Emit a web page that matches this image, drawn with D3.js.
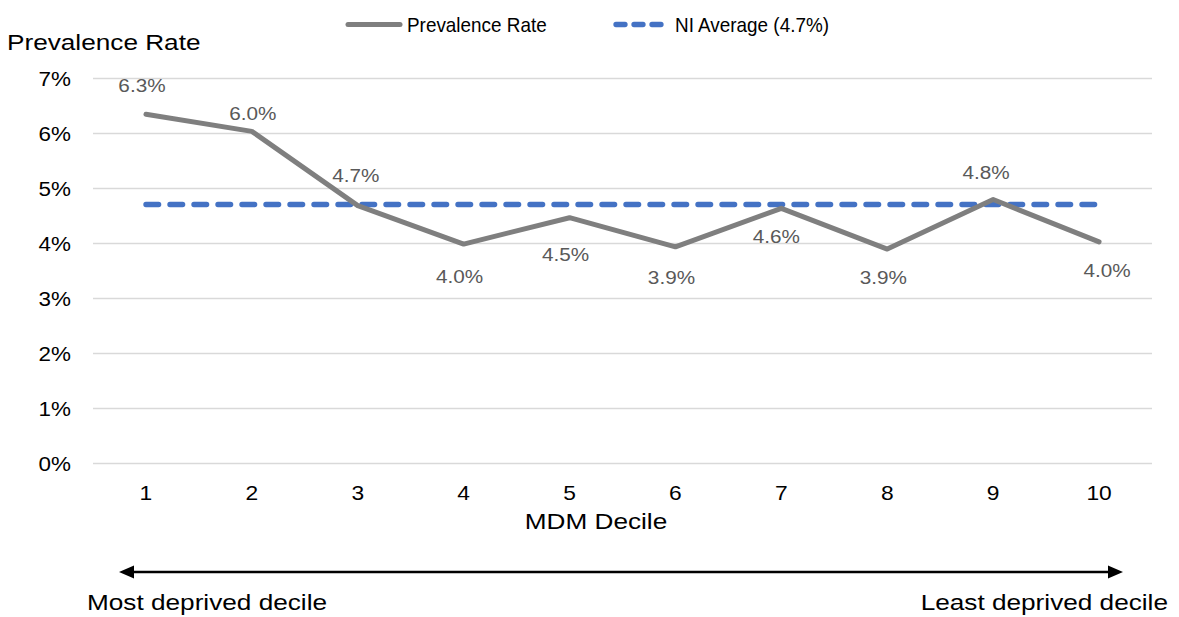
<!DOCTYPE html>
<html>
<head>
<meta charset="utf-8">
<script src="https://cdn.jsdelivr.net/npm/d3@7"></script>
<style>
  html, body { margin: 0; padding: 0; background: #fff; }
  svg { display: block; font-family: "Liberation Sans", Arial, sans-serif; }
</style>
</head>
<body>
<svg id="chart" width="1179" height="617"></svg>
<script>
// Prevalence rate (%) by MDM decile
const deciles = ["1", "2", "3", "4", "5", "6", "7", "8", "9", "10"];
const prevalence = [6.34, 6.03, 4.68, 3.98, 4.46, 3.93, 4.63, 3.89, 4.79, 4.02];
const niAverage = 4.7;
const yTicks = [0, 1, 2, 3, 4, 5, 6, 7];
// data label nudges (dx, dy to baseline) per decile
const labelOffsets = [[-4, -22], [1, -11], [-2, -24], [-4, 39], [-4, 43], [-4, 37], [-5, 35], [-4, 35], [-7, -21], [8, 35]];

const svg = d3.select("#chart");
const plot = { left: 93, right: 1152, top: 78, bottom: 463 };

const x = d3.scaleBand().domain(deciles).range([plot.left, plot.right]).padding(0);
const cx = d => x(d) + x.bandwidth() / 2;
const y = d3.scaleLinear().domain([0, 7]).range([plot.bottom, plot.top]);

// text with a slight horizontal stretch
function label(g, txt, px, py, opts) {
  const o = Object.assign({ size: 20, sx: 1.15, anchor: "start", fill: "#000" }, opts || {});
  return g.append("text")
    .attr("transform", `translate(${px},${py}) scale(${o.sx},1)`)
    .attr("text-anchor", o.anchor)
    .attr("font-size", o.size)
    .attr("fill", o.fill)
    .text(txt);
}

// gridlines
const yAxis = d3.axisLeft(y).tickValues(yTicks).tickSize(-(plot.right - plot.left)).tickFormat("");
const gy = svg.append("g").attr("transform", `translate(${plot.left},0)`).call(yAxis);
gy.select(".domain").remove();
gy.selectAll(".tick line").attr("stroke", "#d9d9d9").attr("stroke-width", 1.3);

// y tick labels
yTicks.forEach(t => label(svg, t + "%", 71, y(t) + 7.5, { size: 19.5, anchor: "end", sx: 1.15 }));

// x tick labels
deciles.forEach(d => label(svg, d, cx(d), 500, { size: 20, anchor: "middle", sx: 1.14 }));

// titles
label(svg, "Prevalence Rate", 7, 50, { size: 22, sx: 1.19 });
label(svg, "MDM Decile", 596, 529, { size: 22, anchor: "middle", sx: 1.19 });

// NI average reference line
svg.append("line")
  .attr("x1", cx(deciles[0])).attr("x2", cx(deciles[deciles.length - 1]))
  .attr("y1", y(niAverage)).attr("y2", y(niAverage))
  .attr("stroke", "#4472c4").attr("stroke-width", 5.3)
  .attr("stroke-linecap", "round").attr("stroke-dasharray", "12.7,11.3");

// prevalence line
const line = d3.line().x((v, i) => cx(deciles[i])).y(v => y(v));
svg.append("path")
  .datum(prevalence)
  .attr("d", line)
  .attr("fill", "none")
  .attr("stroke", "#7f7f7f").attr("stroke-width", 5)
  .attr("stroke-linejoin", "round").attr("stroke-linecap", "round");

// data labels
const fmt = d3.format(".1f");
prevalence.forEach((v, i) => {
  const [dx, dy] = labelOffsets[i];
  label(svg, fmt(v) + "%", cx(deciles[i]) + dx, y(v) + dy, { size: 18.5, anchor: "middle", sx: 1.12, fill: "#595959" });
});

// legend
const lg = svg.append("g");
lg.append("line").attr("x1", 348).attr("x2", 400).attr("y1", 24.5).attr("y2", 24.5)
  .attr("stroke", "#7f7f7f").attr("stroke-width", 5).attr("stroke-linecap", "round");
label(lg, "Prevalence Rate", 407, 32, { size: 21, sx: 0.9 });
lg.append("line").attr("x1", 616).attr("x2", 662).attr("y1", 24.5).attr("y2", 24.5)
  .attr("stroke", "#4472c4").attr("stroke-width", 5.3)
  .attr("stroke-linecap", "round").attr("stroke-dasharray", "9,9");
label(lg, "NI Average (4.7%)", 675, 32, { size: 21, sx: 0.9 });

// deprivation direction arrow
const ax1 = 119, ax2 = 1123, ay = 572;
svg.append("line").attr("x1", ax1 + 12).attr("x2", ax2 - 12).attr("y1", ay).attr("y2", ay)
  .attr("stroke", "#000").attr("stroke-width", 2.5);
svg.append("path").attr("d", `M${ax1},${ay} L${ax1 + 15},${ay - 6.5} L${ax1 + 15},${ay + 6.5} Z`).attr("fill", "#000");
svg.append("path").attr("d", `M${ax2},${ay} L${ax2 - 15},${ay - 6.5} L${ax2 - 15},${ay + 6.5} Z`).attr("fill", "#000");

label(svg, "Most deprived decile", 87, 610, { size: 22, sx: 1.19 });
label(svg, "Least deprived decile", 1168, 610, { size: 22, anchor: "end", sx: 1.19 });
</script>
</body>
</html>
